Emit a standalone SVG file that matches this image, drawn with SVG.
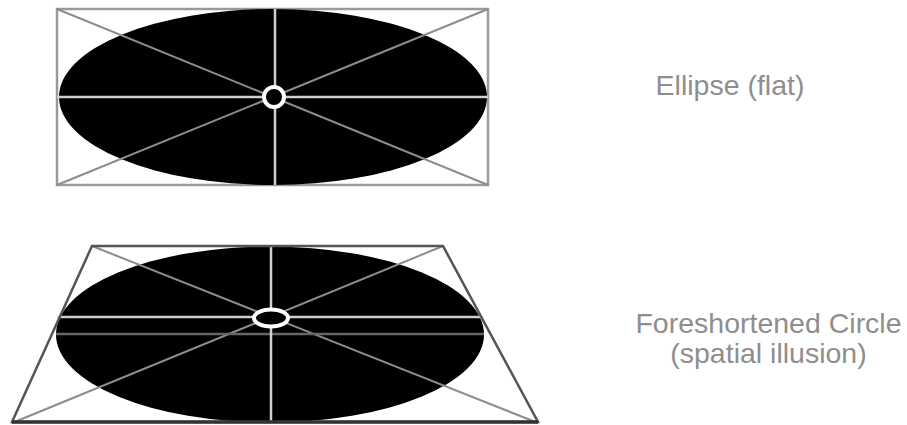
<svg xmlns="http://www.w3.org/2000/svg" width="907" height="425" viewBox="0 0 907 425">
<style>
.disc{fill:#000}
.frame{fill:none;stroke:#9a9a9a;stroke-width:2.5}
.trap{fill:none;stroke:#555;stroke-width:2.5}
.trapbase{stroke:#333;stroke-width:3.5}
.diag{stroke:#8c8c8c;stroke-width:2;fill:none}
.axis{stroke:#d0d0d0;stroke-width:2.5;fill:none}
.axis2{stroke:#666;stroke-width:2.5;fill:none}
.ring{fill:#000;stroke:#fff;stroke-width:4}
.label{font-family:"Liberation Sans",Arial,sans-serif;font-size:28.5px;fill:#8e8e8e;text-anchor:middle}
</style>
<rect width="907" height="425" fill="#fff"/>
<g id="flat-ellipse">
  <rect class="frame" x="57" y="9" width="431" height="176"/>
  <ellipse class="disc" cx="273" cy="97" rx="214" ry="88"/>
  <line class="diag" x1="57" y1="9" x2="488" y2="185"/>
  <line class="diag" x1="488" y1="9" x2="57" y2="185"/>
  <line class="axis" x1="57" y1="97" x2="488" y2="97"/>
  <line class="axis" x1="275" y1="9" x2="275" y2="185"/>
  <circle class="ring" cx="274" cy="97" r="10"/>
</g>
<g id="foreshortened-circle">
  <ellipse class="disc" cx="270" cy="334.5" rx="214" ry="88"/>
  <line class="diag" x1="92" y1="246" x2="538" y2="423"/>
  <line class="diag" x1="443" y1="246" x2="12" y2="423"/>
  <line class="axis2" x1="56" y1="334" x2="484" y2="334"/>
  <line class="axis" x1="57" y1="317" x2="482" y2="317"/>
  <line class="axis" x1="271" y1="246" x2="271" y2="422"/>
  <polygon class="trap" points="92,246 443,246 538,422 12,422"/>
  <line class="trapbase" x1="12" y1="422" x2="538" y2="422"/>
  <ellipse class="ring" cx="271" cy="318" rx="17" ry="8.5"/>
</g>
<g id="labels">
  <text class="label" x="730" y="95">Ellipse (flat)</text>
  <text class="label" x="768.5" y="333">Foreshortened Circle</text>
  <text class="label" x="768.5" y="363">(spatial illusion)</text>
</g>
</svg>
